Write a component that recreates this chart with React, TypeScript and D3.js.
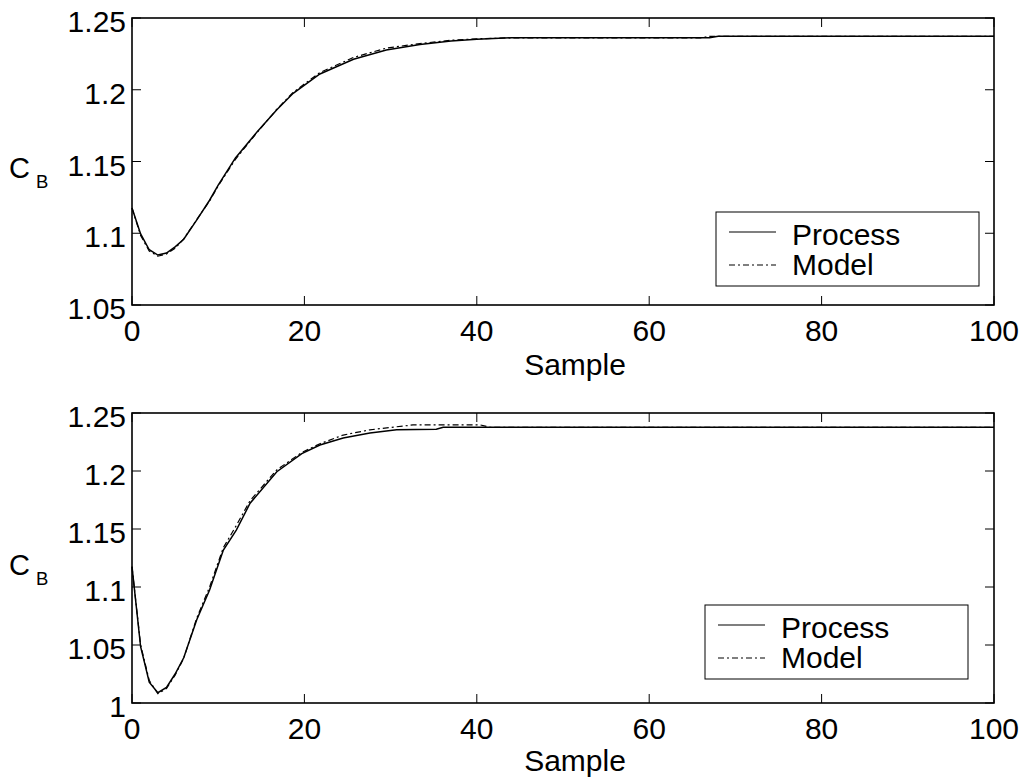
import React from "react";
import * as d3 from "d3";

// ---------- data ----------
const topProcessX = [0, 1, 2, 3, 4, 5, 6, 7.5, 9, 10, 12, 14.5, 16.8, 18.7, 21.8, 25.7, 29.5, 33.4, 37, 40, 44, 67, 68, 100];
const topProcessY = [1.1176, 1.0995, 1.0885, 1.0848, 1.0862, 1.0905, 1.0958, 1.1092, 1.123, 1.1335, 1.1525, 1.1705, 1.186, 1.1975, 1.211, 1.2212, 1.2277, 1.2315, 1.234, 1.2352, 1.2362, 1.2362, 1.2372, 1.2372];
const topModelX = [0, 1, 2, 3, 4, 5, 6, 7.5, 9, 10, 12, 14.5, 16.8, 18.7, 21.8, 25.7, 29.5, 33.4, 37, 40, 44, 66, 67, 100];
const topModelY = [1.1176, 1.0985, 1.0875, 1.084, 1.0855, 1.0895, 1.096, 1.1095, 1.1225, 1.133, 1.1515, 1.1702, 1.1864, 1.1982, 1.212, 1.2225, 1.229, 1.2322, 1.2345, 1.2355, 1.2362, 1.2362, 1.2372, 1.2372];

const botProcessX = [0, 1, 2, 3, 4, 5, 6, 7.5, 9, 10.6, 12.1, 13.7, 16.8, 19.7, 21.8, 24.5, 27.6, 30.7, 35.3, 36.1, 100];
const botProcessY = [1.1175, 1.0485, 1.018, 1.0089, 1.0135, 1.025, 1.039, 1.0716, 1.0974, 1.1319, 1.1491, 1.1722, 1.1994, 1.215, 1.2224, 1.2285, 1.2328, 1.2355, 1.236, 1.2377, 1.2377];
const botModelX = [0, 1, 2, 3, 4, 5, 6, 7.5, 9, 10.6, 12.1, 13.7, 16.8, 19.7, 21.8, 24.5, 27.6, 29.1, 32.6, 40.4, 41.5, 100];
const botModelY = [1.1175, 1.05, 1.0195, 1.008, 1.0125, 1.024, 1.0385, 1.073, 1.1, 1.134, 1.153, 1.1745, 1.201, 1.216, 1.2235, 1.231, 1.2355, 1.2368, 1.2397, 1.2397, 1.2377, 1.2377];

const xTicks = [0, 20, 40, 60, 80, 100];
const topYTicks = [1.05, 1.1, 1.15, 1.2, 1.25];
const botYTicks = [1, 1.05, 1.1, 1.15, 1.2, 1.25];
const legendLabels = ["Process", "Model"];

const FONT = "'Liberation Sans', Arial, Helvetica, sans-serif";
const W = 1036;
const H = 780;

type PanelProps = {
  top: number;
  bottom: number;
  yDomain: [number, number];
  yTicks: number[];
  processX: number[];
  processY: number[];
  modelX: number[];
  modelY: number[];
  legendTop: number;
  legendLeft: number;
  xlabelY: number;
};

const LEFT = 132;
const RIGHT = 994;

function fmt(v: number) {
  return String(+v.toFixed(2));
}

function Panel(p: PanelProps) {
  const x = d3.scaleLinear().domain([0, 100]).range([LEFT, RIGHT]);
  const y = d3.scaleLinear().domain(p.yDomain).range([p.bottom, p.top]);
  const line = d3
    .line<[number, number]>()
    .x((d) => x(d[0]))
    .y((d) => y(d[1]));
  const proc = p.processX.map((v, i) => [v, p.processY[i]] as [number, number]);
  const mod = p.modelX.map((v, i) => [v, p.modelY[i]] as [number, number]);
  const tl = 9;
  const mid = (p.top + p.bottom) / 2;
  const lw = 263;
  const lh = 74;
  return (
    <g>
      {/* data */}
      <path d={line(proc) || ""} fill="none" stroke="#000" strokeWidth={1.5} />
      <path d={line(mod) || ""} fill="none" stroke="#000" strokeWidth={1.2} strokeDasharray="6,3,2,3" />
      {/* frame */}
      <rect x={LEFT} y={p.top} width={RIGHT - LEFT} height={p.bottom - p.top} fill="none" stroke="#000" strokeWidth={1.6} />
      {xTicks.map((t) => (
        <g key={"x" + t}>
          <line x1={x(t)} x2={x(t)} y1={p.bottom} y2={p.bottom - tl} stroke="#000" strokeWidth={1} />
          <line x1={x(t)} x2={x(t)} y1={p.top} y2={p.top + tl} stroke="#000" strokeWidth={1} />
          <text x={x(t)} y={p.bottom + 36} textAnchor="middle" fontSize={30} fontFamily={FONT}>
            {t}
          </text>
        </g>
      ))}
      {p.yTicks.map((t) => (
        <g key={"y" + t}>
          <line x1={LEFT} x2={LEFT + tl} y1={y(t)} y2={y(t)} stroke="#000" strokeWidth={1} />
          <line x1={RIGHT} x2={RIGHT - tl} y1={y(t)} y2={y(t)} stroke="#000" strokeWidth={1} />
          <text x={126} y={y(t) + 14} textAnchor="end" fontSize={30} fontFamily={FONT}>
            {fmt(t)}
          </text>
        </g>
      ))}
      {/* axis labels */}
      <text x={575} y={p.xlabelY} textAnchor="middle" fontSize={30} fontFamily={FONT}>
        Sample
      </text>
      <text x={9} y={mid + 16.5} fontSize={29} fontFamily={FONT}>
        C
      </text>
      <text x={36} y={mid + 26.5} fontSize={18.5} fontFamily={FONT}>
        B
      </text>
      {/* legend */}
      <rect x={p.legendLeft} y={p.legendTop} width={lw} height={lh} fill="#fff" stroke="#000" strokeWidth={1} />
      <line x1={p.legendLeft + 13} x2={p.legendLeft + 60} y1={p.legendTop + 20} y2={p.legendTop + 20} stroke="#000" strokeWidth={1.2} />
      <line x1={p.legendLeft + 13} x2={p.legendLeft + 60} y1={p.legendTop + 53} y2={p.legendTop + 53} stroke="#000" strokeWidth={1.1} strokeDasharray="6,3,2,3" />
      <text x={p.legendLeft + 76} y={p.legendTop + 33} fontSize={30} fontFamily={FONT}>
        {legendLabels[0]}
      </text>
      <text x={p.legendLeft + 76} y={p.legendTop + 63} fontSize={30} fontFamily={FONT}>
        {legendLabels[1]}
      </text>
    </g>
  );
}

export default function App() {
  return (
    <svg
      width={W}
      height={H}
      viewBox={`0 0 ${W} ${H}`}
      style={{ position: "absolute", left: 0, top: 0, background: "#fff" }}
    >
      <rect x={0} y={0} width={W} height={H} fill="#fff" />
      <Panel
        top={18}
        bottom={305}
        yDomain={[1.05, 1.25]}
        yTicks={topYTicks}
        processX={topProcessX}
        processY={topProcessY}
        modelX={topModelX}
        modelY={topModelY}
        legendTop={212}
        legendLeft={716}
        xlabelY={375}
      />
      <Panel
        top={413}
        bottom={703}
        yDomain={[1, 1.25]}
        yTicks={botYTicks}
        processX={botProcessX}
        processY={botProcessY}
        modelX={botModelX}
        modelY={botModelY}
        legendTop={605}
        legendLeft={705}
        xlabelY={771}
      />
    </svg>
  );
}
